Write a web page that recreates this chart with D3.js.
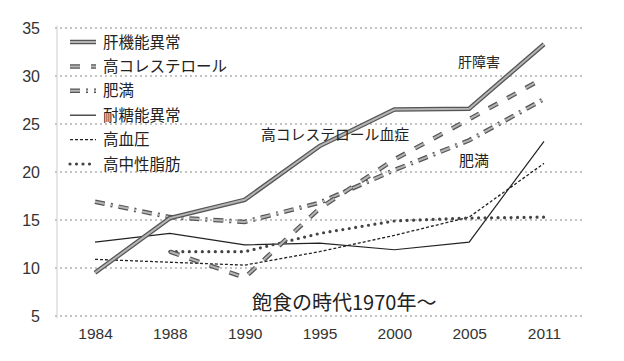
<!DOCTYPE html>
<meta charset="utf-8">
<style>
  body { margin: 0; background: #fff; }
  text { font-family: "Liberation Sans", Arial, "Noto Sans CJK JP", sans-serif; }
  .jp { font-family: "Noto Sans CJK JP", sans-serif; }
</style>
<svg width="624" height="361"></svg>
<script src="https://d3js.org/d3.v7.min.js"></script>
<script>

  // data (percent)
  var years = ["1984", "1988", "1990", "1995", "2000", "2005", "2011"];
  var kanKinou   = [9.5, 15.2, 17.1, 22.7, 26.5, 26.6, 33.3];
  var koChol     = [null, 11.7, 9.0, 16.2, 21.3, 25.5, 29.8];
  var himan      = [16.9, 15.3, 14.8, 16.8, 20.2, 23.3, 27.6];
  var taito      = [12.7, 13.6, 12.4, 12.6, 11.9, 12.7, 23.2];
  var koKetsuatsu = [10.9, 10.6, 10.3, 11.7, 13.4, 15.3, 20.9];
  var koChusei   = [null, 11.7, 11.7, 13.6, 14.9, 15.2, 15.3];
  var yTicks = [5, 10, 15, 20, 25, 30, 35];

  var series = [
    { name: "肝機能異常", values: kanKinou, kind: "thick" },
    { name: "高コレステロール", values: koChol, kind: "thickDash" },
    { name: "肥満", values: himan, kind: "thickDashDot" },
    { name: "耐糖能異常", values: taito, kind: "thin" },
    { name: "高血圧", values: koKetsuatsu, kind: "thinDash" },
    { name: "高中性脂肪", values: koChusei, kind: "dots" }
  ];

  var svg = d3.select("svg");

  var x = d3.scalePoint().domain(years).range([95, 544]);
  var y = d3.scaleLinear().domain([5, 35]).range([316, 28]);

  // gridlines
  svg.append("g").selectAll("line")
    .data(yTicks)
    .join("line")
    .attr("x1", 55).attr("x2", 582)
    .attr("y1", function (d) { return y(d); })
    .attr("y2", function (d) { return y(d); })
    .attr("stroke", "#888")
    .attr("stroke-width", 1)
    .attr("stroke-dasharray", "2,3");

  var yAxis = svg.append("g")
    .attr("transform", "translate(57,0)")
    .call(d3.axisLeft(y).tickValues(yTicks).tickSize(0).tickPadding(17));
  yAxis.select(".domain").attr("stroke", "#ccc").attr("d", "M0,26V318");
  yAxis.selectAll("text").attr("font-size", 16).attr("fill", "#333");

  var xAxis = svg.append("g")
    .attr("transform", "translate(0,316)")
    .call(d3.axisBottom(x).tickSize(0).tickPadding(12));
  xAxis.select(".domain").remove();
  xAxis.selectAll("text").attr("font-size", 15.5).attr("fill", "#333");

  var line = d3.line()
    .defined(function (d) { return d != null; })
    .x(function (d, i) { return x(years[i]); })
    .y(function (d) { return y(d); });

  function drawStyle(sel, kind, path) {
    if (kind === "thick" || kind === "thickDash" || kind === "thickDashDot") {
      var dash = kind === "thickDash" ? "10,11" : (kind === "thickDashDot" ? "10,6,2,6" : null);
      sel.append("path").attr("d", path).attr("fill", "none")
        .attr("stroke", "#555").attr("stroke-width", 4.5)
        .attr("stroke-dasharray", dash);
      sel.append("path").attr("d", path).attr("fill", "none")
        .attr("stroke", "#b5b5b5").attr("stroke-width", 2)
        .attr("stroke-dasharray", dash);
    } else if (kind === "thin") {
      sel.append("path").attr("d", path).attr("fill", "none")
        .attr("stroke", "#222").attr("stroke-width", 1.2);
    } else if (kind === "thinDash") {
      sel.append("path").attr("d", path).attr("fill", "none")
        .attr("stroke", "#222").attr("stroke-width", 1.3)
        .attr("stroke-dasharray", "3,2");
    } else {
      sel.append("path").attr("d", path).attr("fill", "none")
        .attr("stroke", "#444").attr("stroke-width", 3.2)
        .attr("stroke-linecap", "round")
        .attr("stroke-dasharray", "0,6.5");
    }
  }

  // thin lines first, thick ones on top
  [3, 4, 5, 2, 1, 0].forEach(function (k) {
    var s = series[k];
    drawStyle(svg.append("g"), s.kind, line(s.values));
  });

  // legend
  var legend = svg.append("g");
  series.forEach(function (s, i) {
    var ly = 42 + i * 24.4;
    var g = legend.append("g");
    drawStyle(g, s.kind, "M70," + ly + "H96");
    g.append("text").attr("class", "jp")
      .attr("x", 103).attr("y", ly + 5.5)
      .attr("font-size", 15.5).attr("fill", "#222")
      .text(s.name);
  });

  // annotations
  svg.append("text").attr("class", "jp").attr("x", 458).attr("y", 67)
    .attr("font-size", 14).attr("fill", "#222").text("肝障害");
  svg.append("text").attr("class", "jp").attr("x", 261).attr("y", 140)
    .attr("font-size", 14.8).attr("fill", "#222").text("高コレステロール血症");
  svg.append("text").attr("class", "jp").attr("x", 459).attr("y", 166)
    .attr("font-size", 15).attr("fill", "#222").text("肥満");
  svg.append("text").attr("class", "jp").attr("x", 252).attr("y", 310)
    .attr("font-size", 20).attr("fill", "#222").text("飽食の時代1970年〜");

</script>
